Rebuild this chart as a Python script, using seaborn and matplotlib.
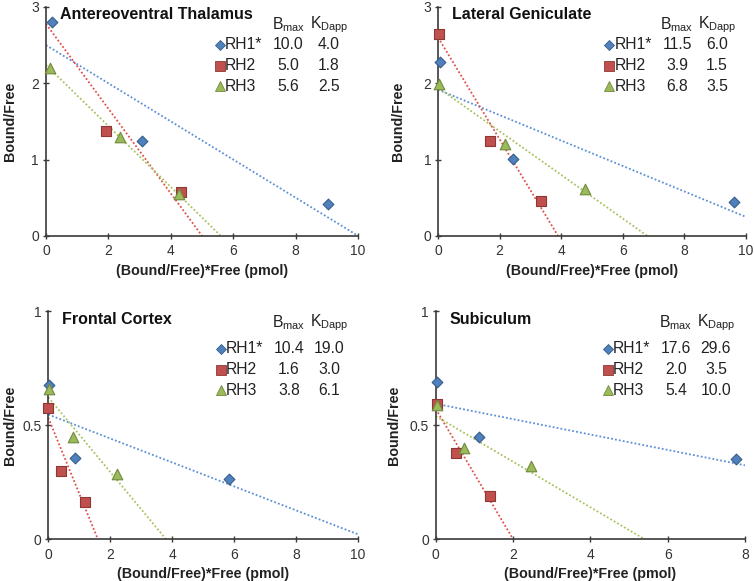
import matplotlib
matplotlib.use("Agg")
import matplotlib.pyplot as plt
import seaborn as sns

sns.set_style("ticks")
plt.rcParams["font.family"] = ["Liberation Sans", "DejaVu Sans"]
plt.rcParams["mathtext.fontset"] = "custom"
plt.rcParams["mathtext.rm"] = "Liberation Sans"

# series shared by all panels
series = ["RH1*", "RH2", "RH3"]

# Antereoventral Thalamus
avt_x = [[0.19, 3.07, 9.04], [1.93, 4.31], [0.12, 2.38, 4.26]]
avt_y = [[2.80, 1.24, 0.415], [1.38, 0.58], [2.20, 1.30, 0.55]]
avt_bmax = ["10.0", "5.0", "5.6"]
avt_kd = ["4.0", "1.8", "2.5"]

# Lateral Geniculate
lg_x = [[0.05, 2.44, 9.63], [0.04, 1.70, 3.33], [0.03, 2.16, 4.78]]
lg_y = [[2.28, 1.01, 0.44], [2.65, 1.25, 0.455], [1.99, 1.21, 0.62]]
lg_bmax = ["11.5", "3.9", "6.8"]
lg_kd = ["6.0", "1.5", "3.5"]

# Frontal Cortex
fc_x = [[0.02, 0.87, 5.83], [0.0, 0.40, 1.18], [0.03, 0.80, 2.22]]
fc_y = [[0.678, 0.356, 0.264], [0.576, 0.30, 0.162], [0.66, 0.45, 0.285]]
fc_bmax = ["10.4", "1.6", "3.8"]
fc_kd = ["19.0", "3.0", "6.1"]

# Subiculum
sub_x = [[0.03, 1.12, 7.76], [0.02, 0.53, 1.40], [0.03, 0.74, 2.47]]
sub_y = [[0.692, 0.449, 0.35], [0.592, 0.38, 0.188], [0.59, 0.40, 0.32]]
sub_bmax = ["17.6", "2.0", "5.4"]
sub_kd = ["29.6", "3.5", "10.0"]

markers = ["D", "s", "^"]
sizes = [30, 42, 58]
face = ["#4F81BD", "#C0504D", "#9BBB59"]
edge = ["#385D8A", "#8C3836", "#71893F"]
line_col = ["#5B8FD6", "#E0504A", "#A6C45E"]

panels = [
    ("Antereoventral Thalamus", avt_x, avt_y, avt_bmax, avt_kd, 10, 3, [0, 1, 2, 3], [0.061, 0.594, 0.414, 0.394], 0.921, -0.093),
    ("Lateral Geniculate", lg_x, lg_y, lg_bmax, lg_kd, 10, 3, [0, 1, 2, 3], [0.581, 0.594, 0.408, 0.394], 0.921, -0.107),
    ("Frontal Cortex", fc_x, fc_y, fc_bmax, fc_kd, 10, 1, [0, 0.5, 1], [0.064, 0.072, 0.411, 0.392], 0.952, -0.100),
    ("Subiculum", sub_x, sub_y, sub_bmax, sub_kd, 8, 1, [0, 0.5, 1], [0.578, 0.072, 0.41, 0.392], 0.952, -0.113),
]

fig = plt.figure(figsize=(7.54, 5.81), dpi=100)

for title, xs, ys, bmax, kd, xmax, ymax, yticks, pos, head_y, ylab_x in panels:
    ax = fig.add_axes(pos)
    for i in range(3):
        # Scatchard fit line from Bmax and Kd
        b = float(bmax[i])
        k = float(kd[i])
        ax.axline((0, b / k), slope=-1 / k, color=line_col[i], lw=1.3,
                  linestyle=(0, (1, 1.2)), zorder=2)
        sns.scatterplot(x=xs[i], y=ys[i], marker=markers[i], s=sizes[i],
                        color=face[i], edgecolor=edge[i], linewidth=0.8,
                        ax=ax, zorder=3, clip_on=False)

    ax.set_xlim(0, xmax)
    ax.set_ylim(0, ymax)
    ax.set_xticks(range(0, xmax + 1, 2))
    ax.set_yticks(yticks)
    ax.set_yticklabels([f"{t:g}" for t in yticks])
    sns.despine(ax=ax)
    for sp in ["left", "bottom"]:
        ax.spines[sp].set_color("#3a3a3a")
        ax.spines[sp].set_linewidth(1.2)
    ax.tick_params(direction="inout", length=4, width=1, colors="#3a3a3a",
                   labelsize=10, labelcolor="#333333")
    ax.tick_params(axis="x", pad=4)
    ax.tick_params(axis="y", pad=3)
    ax.set_xlabel("(Bound/Free)*Free (pmol)", fontsize=10.3, fontweight="bold",
                  color="#222222", labelpad=4)
    ax.set_ylabel("Bound/Free", fontsize=10.3, fontweight="bold",
                  color="#222222")
    ax.yaxis.set_label_coords(ylab_x, 0.5)

    ax.text(0.045, 0.965, title, transform=ax.transAxes, fontsize=11.5,
            fontweight="bold", va="center", ha="left", color="#111111")

    # table legend
    ax.text(0.777, head_y, r"B$_{\mathregular{max}}$", transform=ax.transAxes,
            fontsize=11.3, ha="center", va="center", color="#222222")
    ax.text(0.908, head_y, r"K$_{\mathregular{Dapp}}$", transform=ax.transAxes,
            fontsize=11.3, ha="center", va="center", color="#222222")
    for i, row_y in enumerate([0.836, 0.744, 0.654]):
        ax.plot([0.556], [row_y], marker=markers[i], ms=[5, 6.5, 7][i],
                color=face[i], mec=edge[i], mew=0.6, transform=ax.transAxes,
                clip_on=False, linestyle="none")
        ax.text(0.573, row_y, series[i], transform=ax.transAxes, fontsize=11.3,
                ha="left", va="center", color="#222222")
        ax.text(0.777, row_y, bmax[i], transform=ax.transAxes, fontsize=11.3,
                ha="center", va="center", color="#222222")
        ax.text(0.906, row_y, kd[i], transform=ax.transAxes, fontsize=11.3,
                ha="center", va="center", color="#222222")

fig.savefig("out.png", dpi=100)
